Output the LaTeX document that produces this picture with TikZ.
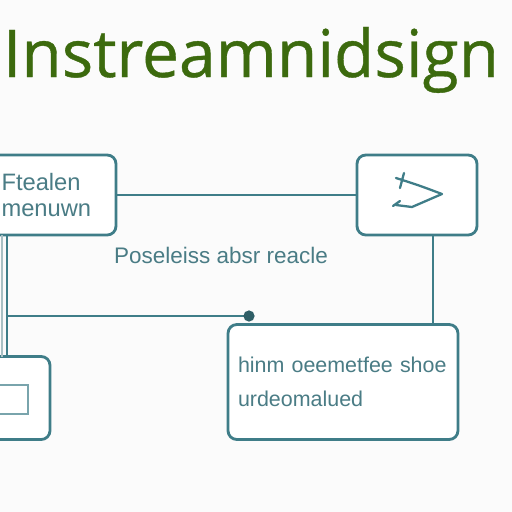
\documentclass[tikz,border=0pt]{standalone}
\usepackage{fontspec}
\setmainfont{Liberation Sans}
\newfontfamily\headfont[FakeBold=0.6]{Open Sans}
\usetikzlibrary{positioning}
\definecolor{boxline}{HTML}{3F7D88}
\definecolor{boxtext}{HTML}{4A7C85}
\definecolor{paleline}{HTML}{A9C0C4}
\definecolor{headgreen}{HTML}{3C6A0E}
\tikzset{
  box/.style={draw=boxline, line width=1.6pt, rounded corners=5pt, fill=white},
  boxlabel/.style={text=boxtext, align=left, font=\fontsize{12}{14.5}\selectfont},
  link/.style={draw=boxline, line width=1.1pt}
}

\begin{document}
\begin{tikzpicture}[x=0.02cm, y=-0.02cm]
    \clip (0,0) rectangle (512,512);
    \fill[white!97!gray] (0,0) rectangle (512,512);
    % heading
    \node[anchor=base, text=headgreen, font=\headfont\fontsize{37.5}{37.5}\selectfont] (heading) at (251,77) {Instreamnidsign};
    % boxes
    \node[box, boxlabel, minimum width=2.6cm, minimum height=1.6cm, text width=1.98cm,
          font=\fontsize{13.5}{14.5}\selectfont] (leftBox) at (51,195) {Ftealen\\menuwn};
    \node[box, minimum width=2.4cm, minimum height=1.6cm] (rightBox) at (417,195) {};
    \node[box, minimum width=1.2cm, minimum height=1.66cm] (cornerBox) at (20,398) {};
    \node[box, boxlabel, minimum width=4.6cm, minimum height=2.3cm, text width=4.2cm,
          font=\fontsize{12.2}{19}\selectfont] (outBox) at (343,382) {hinm oeemetfee shoe\\urdeomalued};
    \draw[draw=boxline!70, line width=1pt] (-12,385) rectangle (28,414);
    \node[text=boxtext, font=\fontsize{12.8}{14}\selectfont] (midLabel) at (221,255) {Poseleiss absr reacle};
    % glyph in right box
    \draw[boxline, line width=1.3pt, line cap=round, line join=round]
        (396,178) .. controls (418,185) .. (442,194) -- (412,207) -- (396,205);
    \draw[boxline, line width=1.3pt, line cap=round] (404,173) -- (400,188);
    \draw[boxline, line width=1.3pt, line cap=round] (393,206) -- (400,201);
    % connectors
    \coordinate (trunk) at (7,235);
    \coordinate (drop) at (433,235);
    \coordinate (dot) at (249,316);
    \draw[link] (leftBox.east) -- (rightBox.west);
    \draw[link] (drop) -- (drop |- outBox.north);
    \draw[draw=paleline, line width=1.1pt] (2,235) -- (2,357);
    \draw[link] (trunk) -- (trunk |- cornerBox.north);
    \draw[link] (trunk |- dot) -- (dot);
    \fill[boxline!75!black] (dot) circle (3.2pt);
\end{tikzpicture}
\end{document}
